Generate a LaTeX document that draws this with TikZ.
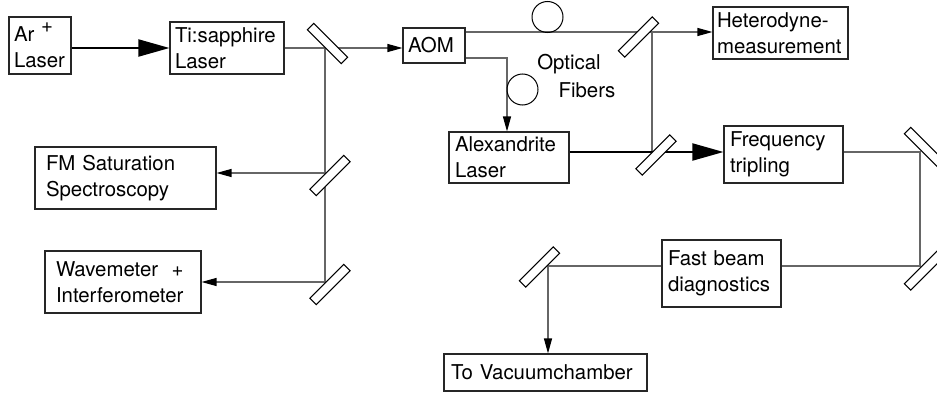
\documentclass[tikz,border=0pt]{standalone}
\usepackage{fontspec}
\setmainfont{TeX Gyre Heros}
\setlength{\parindent}{0pt}
\usetikzlibrary{arrows.meta}
\tikzset{
  txt/.style={font=\fontsize{20.4}{26}\selectfont},
  box/.style={txt, draw=black!85, line width=1.1pt, rectangle, align=left, inner ysep=0pt, anchor=center},
  mirror/.style={draw=black, fill=white, line width=1pt, rectangle, minimum width=48, minimum height=9, inner sep=0pt},
  fiber/.style={draw=black, line width=1pt, circle, minimum size=31, inner sep=0pt},
  beam/.style={draw=black!60, line width=1.2pt},
  strongbeam/.style={draw=black, line width=2pt},
  smallarrow/.style={beam, -{Triangle[length=15pt,width=8pt,color=black]}},
  bigarrow/.style={strongbeam, -{Triangle[length=31pt,width=17pt,color=black]}}
}
\begin{document}
\begin{tikzpicture}[x=1pt,y=-1pt]
\clip (0,0) rectangle (937,396);
\useasboundingbox (0,0) rectangle (937,396);
% boxes
\node[box, minimum width=62, minimum height=57, text width=52, inner xsep=5] (ar) at (40,45.5) {Ar \raisebox{0.45em}{+}\\Laser};
\node[box, minimum width=114, minimum height=52, text width=104, inner xsep=5] (ti) at (227,48) {Ti:sapphire\\Laser};
\node[box, minimum width=62, minimum height=35, text width=52, inner xsep=5] (aom) at (434,45.5) {AOM};
\node[box, minimum width=135, minimum height=52, text width=127, inner xsep=4] (het) at (780.5,33) {Heterodyne-\\measurement};
\node[box, minimum width=120, minimum height=51, text width=108, inner xsep=6] (alex) at (509,157.5) {Alexandrite\\Laser};
\node[box, minimum width=119, minimum height=57, text width=107, inner xsep=6] (freq) at (783.5,154.5) {Frequency\\tripling};
\node[box, minimum width=181, minimum height=62, text width=159, inner xsep=11] (fm) at (125.5,178) {FM Saturation\\Spectroscopy};
\node[box, minimum width=156, minimum height=62, text width=134, inner xsep=11] (wave) at (123,282) {Wavemeter\ \ +\\Interferometer};
\node[box, minimum width=119, minimum height=67, text width=107, inner xsep=6] (fast) at (721.5,273.5) {Fast beam\\diagnostics};
\node[box, minimum width=203, minimum height=37, text width=189, inner xsep=7] (vac) at (545.5,372.5) {To Vacuumchamber};
% labels
\node[txt, inner sep=0pt] (lopt) at (569,64) {Optical};
\node[txt, inner sep=0pt] (lfib) at (587,90) {Fibers};
% beam points
\coordinate (b1) at (325,48);
\coordinate (b2) at (325,173);
\coordinate (b3) at (325,282);
\coordinate (b4) at (652,32);
\coordinate (b5) at (652,152);
\coordinate (b6) at (920,152);
\coordinate (b7) at (920,266);
\coordinate (b8) at (548,266);
\coordinate (k1) at (507,58);
% connectors
\draw[bigarrow] (ar.east |- ti.west) -- (ti.west);
\draw[beam] (ti.east |- b1) -- (b1);
\draw[smallarrow] (b1) -- (aom.west |- b1);
\draw[beam] (b1) -- (b3);
\draw[smallarrow] (b2) -- (fm.east |- b2);
\draw[smallarrow] (b3) -- (wave.east |- b3);
\draw[beam] (aom.east |- b4) -- (b4);
\draw[smallarrow] (b4) -- (het.west |- b4);
\draw[smallarrow] (aom.east |- k1) -- (k1) -- (k1 |- alex.north);
\draw[beam] (b4) -- (b5);
\draw[strongbeam] (alex.east |- b5) -- (b5);
\draw[bigarrow] (b5) -- (freq.west |- b5);
\draw[beam] (freq.east |- b6) -- (b6) -- (b7) -- (fast.east |- b7);
\draw[beam] (fast.west |- b8) -- (b8);
\draw[smallarrow] (b8) -- (vac.north -| b8);
% fibers
\node[fiber] (f1) at (547.5,17) {};
\node[fiber] (f2) at (522.5,89.5) {};
% mirrors
\node[mirror, rotate=-45] (m1) at (327.5,43.5) {};
\node[mirror, rotate=45] (m2) at (330,175.5) {};
\node[mirror, rotate=45] (m3) at (330,284.5) {};
\node[mirror, rotate=45] (m4) at (638.5,37) {};
\node[mirror, rotate=45] (m5) at (656,155) {};
\node[mirror, rotate=-45] (m6) at (924.5,147.5) {};
\node[mirror, rotate=45] (m7) at (924.5,270) {};
\node[mirror, rotate=45] (m8) at (539.5,267) {};
\end{tikzpicture}
\end{document}
